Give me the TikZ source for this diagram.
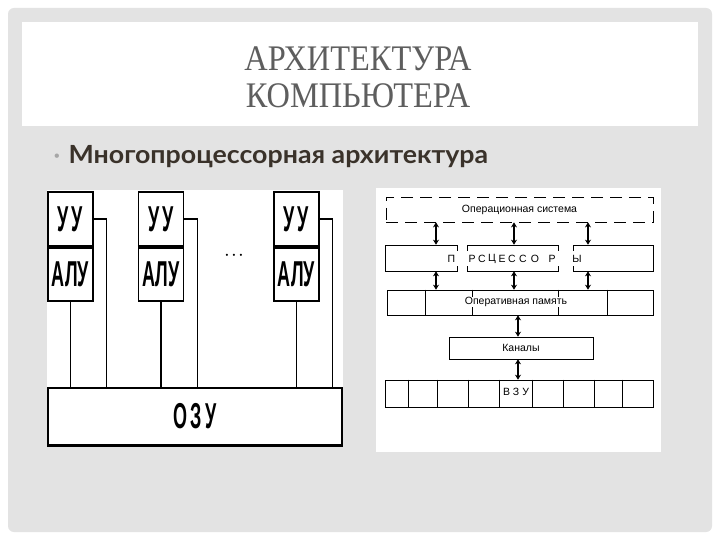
\documentclass[tikz,border=0pt]{standalone}
\usepackage{fontspec}
\setmainfont{Liberation Sans}
\newfontfamily\titlefont{Liberation Serif}
\newfontfamily\bulletfont{Lato}
\usetikzlibrary{arrows.meta,positioning}

\definecolor{slidegray}{HTML}{E3E3E3}
\definecolor{titlegray}{HTML}{5E5E5E}
\definecolor{bulletdark}{HTML}{3A322A}

\tikzset{
  blk/.style={draw, line width=1.3pt, fill=white, inner sep=0pt},
  cell/.style={draw, line width=0.6pt, fill=white, inner sep=0pt},
  lbl/.style={fill=white, inner sep=1pt, font=\fontsize{10.5}{11}\selectfont},
  letter/.style={inner sep=0pt, font=\fontsize{10.5}{11}\selectfont},
  dbl/.style={{Stealth[length=5pt,width=6pt]}-{Stealth[length=5pt,width=6pt]}, line width=1.6pt},
  wire/.style={line width=1.1pt}
}
\newcommand{\narrow}[1]{\scalebox{0.5}[1]{\bfseries #1}}

\begin{document}
\begin{tikzpicture}[x=1pt, y=-1pt]
  \useasboundingbox (0,0) rectangle (720,540);
  % slide
  \fill[white] (0,0) rectangle (720,540);
  \fill[slidegray, rounded corners=6pt] (8,8) rectangle (712,532);
  \fill[white] (22,22) rectangle (698,126);
  \node[font=\titlefont\fontsize{36}{37}\selectfont, text=titlegray, align=center]
    (title) at (358,77) {\scalebox{0.9}[1]{АРХИТЕКТУРА}\\\scalebox{0.9}[1]{КОМПЬЮТЕРА}};
  \node[text=black!35, font=\fontsize{16}{16}\selectfont] (dot) at (57,158) {•};
  \node[font=\bulletfont\bfseries\fontsize{25}{25}\selectfont, text=bulletdark, anchor=west]
    (bullet) at (65,157) {\scalebox{1.07}[1]{Многопроцессорная архитектура}};

  % left picture
  \fill[white] (47,190) rectangle (343,446);
  \node[blk, minimum width=294, minimum height=57] (ozu) at (195,416.5)
    {\fontsize{36}{36}\selectfont\narrow{О\,З\,У}};
  \draw[line width=2.6pt] (ozu.south west) -- (ozu.south east);

  \foreach \i/\cx in {1/70.5, 2/161, 3/296.5} {
    \node[blk, minimum width=45, minimum height=54] (uu\i) at (\cx,219) {\fontsize{36}{36}\selectfont\narrow{У\,У}};
    \node[blk, minimum width=45, minimum height=53] (alu\i) at (\cx,274.5) {\fontsize{36}{36}\selectfont\narrow{АЛУ}};
    \draw[line width=3pt] (uu\i.south west) -- (uu\i.south east);
    \draw[wire] (alu\i.south) -- (alu\i.south |- ozu.north);
    \draw[wire] (uu\i.east) -- ++(13,0) coordinate (t\i) -- (t\i |- ozu.north);
  }
  \node[font=\fontsize{20}{20}\selectfont\bfseries] (dots) at (234,256) {$\cdot\!\cdot\!\cdot$};

  % right picture
  \fill[white] (376,188) rectangle (661,452);
  \node[draw, dashed, dash pattern=on 12pt off 7pt, line width=0.8pt, minimum width=267,
    minimum height=25, inner sep=0pt] (os) at (519.5,209.5) {};
  \node[lbl] (osl) at (os.center) {Операционная система};

  \node[cell, minimum width=72, minimum height=26] (pa) at (421,258) {};
  \node[cell, minimum width=91, minimum height=26] (pb) at (512.5,258) {};
  \node[cell, minimum width=80, minimum height=26] (pc) at (613,258) {};
  \node[fill=white, inner sep=0pt, minimum width=135, minimum height=15] (prl) at (514.5,258.5) {};
  \foreach \k/\x/\ch in {1/451.5/П, 2/472/Р, 3/482/С, 4/492/Ц, 5/502/Е, 6/512/С,
                         7/523/С, 8/535/О, 9/552/Р, 10/577/Ы}
    \node[letter] (pl\k) at (\x,259) {\ch};

  \node[cell, minimum width=266, minimum height=25] (mem) at (520,302.5) {};
  \foreach \x in {425, 472, 558, 607}
    \draw[line width=0.6pt] (mem.north -| \x,0) -- (mem.south -| \x,0);
  \node[lbl, inner sep=0.5pt] (meml) at (516,302) {Оперативная память};

  \node[cell, minimum width=144, minimum height=22] (kan) at (521,348) {};
  \node[lbl] (kanl) at (kan.center) {Каналы};

  \node[cell, minimum width=268, minimum height=27] (vzu) at (519,393.5) {};
  \foreach \x in {408, 437, 468, 499, 532, 563, 594, 622}
    \draw[line width=0.6pt] (vzu.north -| \x,0) -- (vzu.south -| \x,0);
  \node[lbl] (vzul) at (516,392) {В З У};

  \foreach \x/\p in {436/pa, 514/pb, 588/pc} {
    \draw[dbl] (os.south -| \x,0) -- (\p.north -| \x,0);
    \draw[dbl] (\p.south -| \x,0) -- (mem.north -| \x,0);
  }
  \draw[dbl] (mem.south -| 518,0) -- (kan.north -| 518,0);
  \draw[dbl] (kan.south -| 518,0) -- (vzu.north -| 518,0);
\end{tikzpicture}
\end{document}
